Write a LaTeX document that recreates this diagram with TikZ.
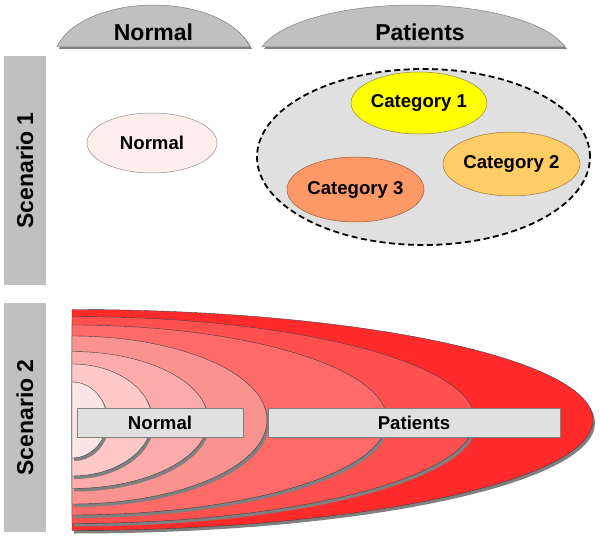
\documentclass[tikz,border=0pt]{standalone}
\usepackage{fontspec}
\setmainfont{Liberation Sans}
\usetikzlibrary{shapes.geometric}
\definecolor{capgray}{HTML}{C0C0C0}
\definecolor{shadowc}{HTML}{808080}
\definecolor{lightg}{HTML}{E0E0E0}
\definecolor{normpink}{HTML}{FDEDED}
\definecolor{cato}{HTML}{FFFF00}
\definecolor{catt}{HTML}{FFCC66}
\definecolor{catth}{HTML}{FC9966}
\definecolor{Lseven}{HTML}{FF2B2B}
\definecolor{Lsix}{HTML}{FF5050}
\definecolor{Lfive}{HTML}{FC6A6A}
\definecolor{Lfour}{HTML}{F99390}
\definecolor{Lthree}{HTML}{FBACAA}
\definecolor{Ltwo}{HTML}{FCC8C8}
\definecolor{Lone}{HTML}{FDE5E5}
\begin{document}
\begin{tikzpicture}[x=1pt,y=-1pt,
  bigtxt/.style={font=\fontsize{23}{27}\selectfont\bfseries},
  smalltxt/.style={font=\fontsize{18.6}{22}\selectfont\bfseries},
  sidebar/.style={fill=capgray, draw=none, rotate=90, minimum width=229pt, minimum height=42pt, inner sep=0pt, bigtxt},
  oval/.style={ellipse, inner sep=0pt, line width=0.5pt, smalltxt},
  bar/.style={rectangle, fill=lightg, draw=shadowc, line width=0.6pt, inner sep=0pt, minimum height=29pt, smalltxt},
  layer/.style={draw=black!75, line width=0.4pt}
]
\useasboundingbox (0,0) rectangle (600,537);

% ---- top caps ----
\fill[shadowc] (59,49) arc[start angle=166.3, end angle=13.7, x radius=99.3pt, y radius=55pt] -- cycle;
\filldraw[fill=capgray, draw=shadowc, line width=0.5pt] (57,47) arc[start angle=166.3, end angle=13.7, x radius=99.3pt, y radius=55pt] -- cycle;
\node[bigtxt] (capN) at (153.5,32) {Normal};

\fill[shadowc] (264,49) arc[start angle=166.3, end angle=13.7, x radius=156pt, y radius=55pt] -- cycle;
\filldraw[fill=capgray, draw=shadowc, line width=0.5pt] (262,47) arc[start angle=166.3, end angle=13.7, x radius=156pt, y radius=55pt] -- cycle;
\node[bigtxt] (capP) at (420,32) {Patients};

% ---- side bars ----
\node[sidebar] (sc1) at (25,170.5) {Scenario 1};
\node[sidebar] (sc2) at (25,417.5) {Scenario 2};

% ---- scenario 1 ----
\node[oval, fill=normpink, draw=black!45, minimum width=130pt, minimum height=60pt] (n1) at (152,143) {Normal};
\node[ellipse, fill=lightg, draw=black, line width=1.8pt, dash pattern=on 6pt off 3.5pt, minimum width=333pt, minimum height=176pt] (pat) at (423.5,157) {};
\node[oval, fill=cato, draw=black!50!yellow, minimum width=136pt, minimum height=62pt] (c1) at (419,103) {Category 1};
\node[oval, fill=catt, draw=black!40!catt, minimum width=137pt, minimum height=64pt] (c2) at (511.5,164) {Category 2};
\node[oval, fill=catth, draw=black!40!catth, minimum width=137pt, minimum height=65pt] (c3) at (355.5,189.5) {Category 3};

% ---- scenario 2 ----
\foreach \rx/\ry/\col in {521/110.5/Lseven, 403/103.5/Lsix, 315/95/Lfive, 195/84/Lfour, 136/68.5/Lthree, 80/56/Ltwo, 35/38/Lone} {
  \fill[shadowc] (74,{423-\ry}) arc[start angle=90, end angle=-90, x radius=\rx pt, y radius=\ry pt] -- cycle;
  \filldraw[fill=\col, layer] (72,{420-\ry}) arc[start angle=90, end angle=-90, x radius=\rx pt, y radius=\ry pt] -- cycle;
}
\node[bar, minimum width=166pt] (b1) at (160,422.5) {Normal};
\node[bar, minimum width=292pt] (b2) at (414,422.5) {Patients};
\end{tikzpicture}
\end{document}
